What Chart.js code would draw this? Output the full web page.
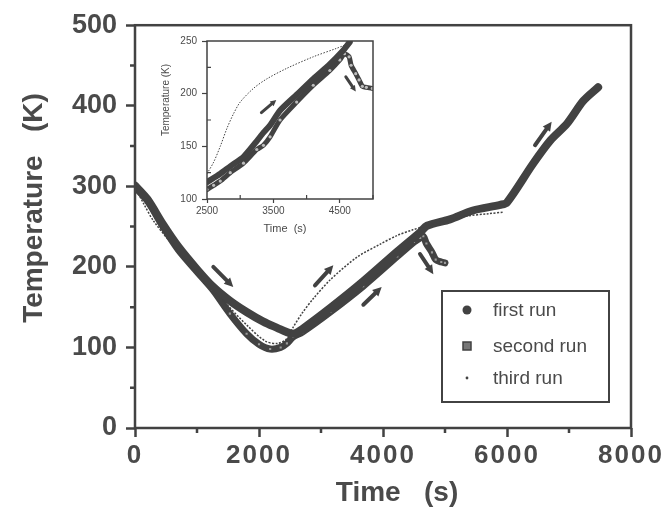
<!DOCTYPE html>
<html>
<head>
<meta charset="utf-8">
<script src="https://cdn.jsdelivr.net/npm/chart.js@4.4.1/dist/chart.umd.min.js"></script>
<style>
  html, body { margin: 0; padding: 0; background: #fff; }
  #wrap { position: relative; width: 669px; height: 509px; }
  #main { position: absolute; left: 0; top: 0; }
  #inset { position: absolute; left: 140px; top: 30px; }
</style>
</head>
<body>
<div id="wrap">
  <canvas id="main" width="669" height="509"></canvas>
  <canvas id="inset" width="245" height="210"></canvas>
</div>
<script>
// main plot: ticks
const xTicks = [0, 2000, 4000, 6000, 8000];
const yTicks = [0, 100, 200, 300, 400, 500];
const xMinor = [1000, 3000, 5000, 7000];
const yMinor = [50, 150, 250, 350, 450];

// main plot: runs (time in s, temperature in K)
const timeFirst = [0, 200, 450, 700, 1000, 1250, 1530, 1800, 2070, 2300, 2450, 2560, 2700, 3150, 3680, 4230, 4600, 4710, 5080, 5450, 5890, 6000, 6420, 6700, 6970, 7230, 7470];
const tempFirst = [301, 284, 253, 225, 197, 176, 158, 144, 132, 124, 119, 117, 123, 149, 182, 219, 243, 251, 259, 270, 277, 280, 328, 357, 378, 406, 423];
const timeSecond = [0, 200, 450, 700, 1000, 1250, 1530, 1800, 2000, 2180, 2350, 2450, 2550, 2700, 3150, 3680, 4230, 4500, 4600, 4650, 4700, 4790, 4850, 4940, 5000];
const tempSecond = [299, 282, 250, 221, 194, 172, 142, 117, 104, 98, 100, 105, 113, 119, 144, 176, 213, 231, 236, 238, 229, 218, 209, 206, 205];
const timeThird = [0, 150, 300, 600, 1000, 1400, 1800, 2100, 2300, 2450, 2550, 2700, 2870, 3150, 3580, 3950, 4230, 4480, 4700, 5000, 5350, 5700, 5950];
const tempThird = [299, 277, 257, 228, 194, 160, 128, 108, 105, 111, 125, 143, 160, 184, 212, 228, 239, 246, 251, 257, 263, 266, 268];

// direction arrows [t0, T0, t1, T1]
const mainArrows = [[1263, 200, 1585, 175], [2903, 177, 3199, 202], [3683, 153, 3979, 175], [4597, 216, 4812, 191], [6452, 351, 6720, 380]];

// inset: ticks
const insetXTicks = [2500, 3500, 4500];
const insetYTicks = [100, 150, 200, 250];
const insetXMinor = [3000, 4000, 5000];
const insetYMinor = [125, 175, 225];

// inset: runs
const insetTimeFirst = [2500, 2700, 2850, 3050, 3250, 3350, 3450, 3600, 3850, 4100, 4350, 4550, 4650];
const insetTempFirst = [116, 124, 131, 140, 155, 163, 170, 184, 199, 214, 228, 241, 249];
const insetTimeSecond = [2500, 2600, 2700, 2850, 3050, 3250, 3350, 3450, 3600, 3850, 4100, 4350, 4500, 4570, 4640, 4670, 4740, 4790, 4840, 4900, 4990];
const insetTempSecond = [109, 113, 117, 125, 134, 147, 151, 159, 175, 192, 208, 222, 232, 238, 235, 227, 219, 213, 207, 206, 205];
const insetTimeThird = [2500, 2600, 2700, 2800, 2900, 3000, 3200, 3400, 3700, 4100, 4450, 4650];
const insetTempThird = [124, 135, 150, 167, 181, 192, 205, 214, 224, 235, 243, 248];

const insetArrows = [[3319, 182, 3543, 194], [4591, 216, 4741, 202]];

const ink = '#424242';
const textInk = '#4a4a4a';
const family = "'Liberation Sans', Arial, Helvetica, sans-serif";

const pts = (xs, ys) => xs.map((x, i) => ({ x, y: ys[i] }));

function drawArrow(ctx, x0, y0, x1, y1, s) {
  const ang = Math.atan2(y1 - y0, x1 - x0);
  const c = Math.cos(ang), sn = Math.sin(ang);
  const bx = x1 - s.head * c, by = y1 - s.head * sn;
  ctx.lineWidth = s.width;
  ctx.lineCap = 'round';
  ctx.beginPath(); ctx.moveTo(x0, y0); ctx.lineTo(bx, by); ctx.stroke();
  ctx.beginPath();
  ctx.moveTo(x1, y1);
  ctx.lineTo(bx + s.half * sn, by - s.half * c);
  ctx.lineTo(bx - s.half * sn, by + s.half * c);
  ctx.closePath(); ctx.fill();
}

// frame, minor ticks, arrows, axis titles and legend
const decor = {
  id: 'decor',
  afterDraw(chart, args, o) {
    const { ctx, chartArea: a, scales: { x, y } } = chart;
    ctx.save();
    ctx.strokeStyle = ink;
    ctx.fillStyle = ink;
    ctx.lineWidth = o.frame;
    ctx.strokeRect(a.left, a.top, a.right - a.left, a.bottom - a.top);

    ctx.lineWidth = o.minorWidth;
    ctx.beginPath();
    o.minorX.forEach(v => { const px = x.getPixelForValue(v); ctx.moveTo(px, a.bottom); ctx.lineTo(px, a.bottom + o.minorLen); });
    o.minorY.forEach(v => { const py = y.getPixelForValue(v); ctx.moveTo(a.left, py); ctx.lineTo(a.left - o.minorLen, py); });
    ctx.stroke();

    o.arrows.forEach(([t0, T0, t1, T1]) => drawArrow(ctx,
      x.getPixelForValue(t0), y.getPixelForValue(T0),
      x.getPixelForValue(t1), y.getPixelForValue(T1), o.arrow));

    ctx.fillStyle = textInk;
    o.titles.forEach(t => {
      ctx.save();
      ctx.translate(t.x, t.y);
      ctx.rotate(t.rot || 0);
      ctx.font = t.font;
      ctx.textAlign = 'center';
      ctx.textBaseline = 'alphabetic';
      ctx.fillText(t.text, 0, 0);
      ctx.restore();
    });

    if (o.legend) {
      const L = o.legend;
      ctx.lineWidth = 2;
      ctx.strokeStyle = ink;
      ctx.strokeRect(L.left, L.top, L.width, L.height);
      chart.data.datasets.forEach((ds, i) => {
        const sy = L.rows[i];
        ctx.fillStyle = ink;
        if (i === 0) {
          ctx.beginPath(); ctx.arc(L.symbolX, sy, 4.5, 0, Math.PI * 2); ctx.fill();
        } else if (i === 1) {
          ctx.fillStyle = '#777';
          ctx.fillRect(L.symbolX - 4, sy - 4, 8, 8);
          ctx.lineWidth = 1.5;
          ctx.strokeRect(L.symbolX - 4, sy - 4, 8, 8);
        } else {
          ctx.beginPath(); ctx.arc(L.symbolX, sy, 1.4, 0, Math.PI * 2); ctx.fill();
        }
        ctx.fillStyle = textInk;
        ctx.font = L.font;
        ctx.textAlign = 'left';
        ctx.textBaseline = 'middle';
        ctx.fillText(ds.label, L.textX, sy + 1);
      });
    }
    ctx.restore();
  }
};

// wider letter spacing for the x tick labels
function spaced(scale, px) {
  if (scale._spaced) return;
  const orig = scale.drawLabels.bind(scale);
  scale.drawLabels = (area) => {
    const c = scale.ctx;
    c.save();
    c.letterSpacing = px;
    orig(area);
    c.restore();
  };
  scale._spaced = true;
}

new Chart(document.getElementById('main'), {
  type: 'scatter',
  data: {
    datasets: [
      { label: 'first run', data: pts(timeFirst, tempFirst), showLine: true, borderColor: ink, borderWidth: 8,
        pointRadius: 0, tension: 0.3, borderCapStyle: 'round', borderJoinStyle: 'round', order: 1 },
      { label: 'second run', data: pts(timeSecond, tempSecond), showLine: true, borderColor: ink, borderWidth: 7,
        pointStyle: 'rect', pointRadius: 1.5, pointBorderWidth: 0, pointBackgroundColor: '#9a9a9a',
        tension: 0.3, borderCapStyle: 'round', borderJoinStyle: 'round', order: 2 },
      { label: 'third run', data: pts(timeThird, tempThird), showLine: true, borderColor: ink, borderWidth: 1.5,
        borderDash: [2, 1.5], pointRadius: 0, tension: 0.3, order: 0 }
    ]
  },
  options: {
    responsive: false,
    animation: false,
    layout: { padding: { top: 20, right: 38, left: 0, bottom: 0 } },
    plugins: {
      legend: { display: false },
      tooltip: { enabled: false },
      decor: {
        frame: 2.5, minorWidth: 2.5, minorLen: 5,
        minorX: xMinor, minorY: yMinor,
        arrows: mainArrows,
        arrow: { width: 4, head: 9, half: 4.5 },
        titles: [
          { text: 'Time   (s)', x: 397, y: 501, font: `bold 28px ${family}` },
          { text: 'Temperature   (K)', x: 42, y: 208, rot: -Math.PI / 2, font: `bold 28px ${family}` }
        ],
        legend: { left: 442, top: 291, width: 167, height: 111, symbolX: 467, textX: 493, rows: [310, 346, 378],
          font: `19px ${family}` }
      }
    },
    scales: {
      x: {
        type: 'linear', min: 0, max: 8000,
        afterBuildTicks: s => { s.ticks = xTicks.map(v => ({ value: v })); },
        afterFit: s => { s.height = 81; spaced(s, '2px'); },
        grid: { drawOnChartArea: false, tickLength: 9, tickWidth: 2.5, tickColor: ink },
        border: { display: false },
        ticks: { color: textInk, font: { family, size: 26, weight: 'bold' }, padding: 3, maxRotation: 0, autoSkip: false,
          callback: v => String(v) }
      },
      y: {
        type: 'linear', min: 0, max: 500,
        afterBuildTicks: s => { s.ticks = yTicks.map(v => ({ value: v })); },
        afterFit: s => { s.width = 135; },
        grid: { drawOnChartArea: false, tickLength: 9, tickWidth: 2.5, tickColor: ink },
        border: { display: false },
        ticks: { color: textInk, font: { family, size: 27, weight: 'bold' }, padding: 9, autoSkip: false,
          callback: v => String(v) }
      }
    }
  },
  plugins: [decor]
});

new Chart(document.getElementById('inset'), {
  type: 'scatter',
  data: {
    datasets: [
      { label: 'first run', data: pts(insetTimeFirst, insetTempFirst), showLine: true, borderColor: ink, borderWidth: 6,
        pointRadius: 0, tension: 0.2, borderCapStyle: 'round', order: 1 },
      { label: 'second run', data: pts(insetTimeSecond, insetTempSecond), showLine: true, borderColor: ink, borderWidth: 5,
        pointRadius: 1.6, pointBorderWidth: 0, pointBackgroundColor: '#bdbdbd', tension: 0.2, borderCapStyle: 'round', order: 2 },
      { label: 'third run', data: pts(insetTimeThird, insetTempThird), showLine: true, borderColor: ink, borderWidth: 1,
        borderDash: [1.5, 1.5], pointRadius: 0, tension: 0.3, order: 0 }
    ]
  },
  options: {
    responsive: false,
    animation: false,
    layout: { padding: { top: 9, right: 12, left: 0, bottom: 0 } },
    plugins: {
      legend: { display: false },
      tooltip: { enabled: false },
      decor: {
        frame: 1.5, minorWidth: 1.2, minorLen: -4,
        minorX: insetXMinor, minorY: insetYMinor,
        arrows: insetArrows,
        arrow: { width: 3, head: 6, half: 3 },
        titles: [
          { text: 'Time  (s)', x: 145, y: 202, font: `11px ${family}` },
          { text: 'Temperature (K)', x: 29, y: 70, rot: -Math.PI / 2, font: `10px ${family}` }
        ]
      }
    },
    scales: {
      x: {
        type: 'linear', min: 2500, max: 5000,
        afterBuildTicks: s => { s.ticks = insetXTicks.map(v => ({ value: v })); },
        afterFit: s => { s.height = 41; },
        grid: { drawOnChartArea: false, tickLength: 4, tickWidth: 1.2, tickColor: ink },
        border: { display: false },
        ticks: { color: textInk, font: { family, size: 10 }, padding: 2, maxRotation: 0, autoSkip: false,
          callback: v => String(v) }
      },
      y: {
        type: 'linear', min: 100, max: 250,
        afterBuildTicks: s => { s.ticks = insetYTicks.map(v => ({ value: v })); },
        afterFit: s => { s.width = 67; },
        grid: { drawOnChartArea: false, tickLength: 5, tickWidth: 1.2, tickColor: ink },
        border: { display: false },
        ticks: { color: textInk, font: { family, size: 10 }, padding: 5, autoSkip: false,
          callback: v => String(v) }
      }
    }
  },
  plugins: [decor]
});
</script>
</body>
</html>
